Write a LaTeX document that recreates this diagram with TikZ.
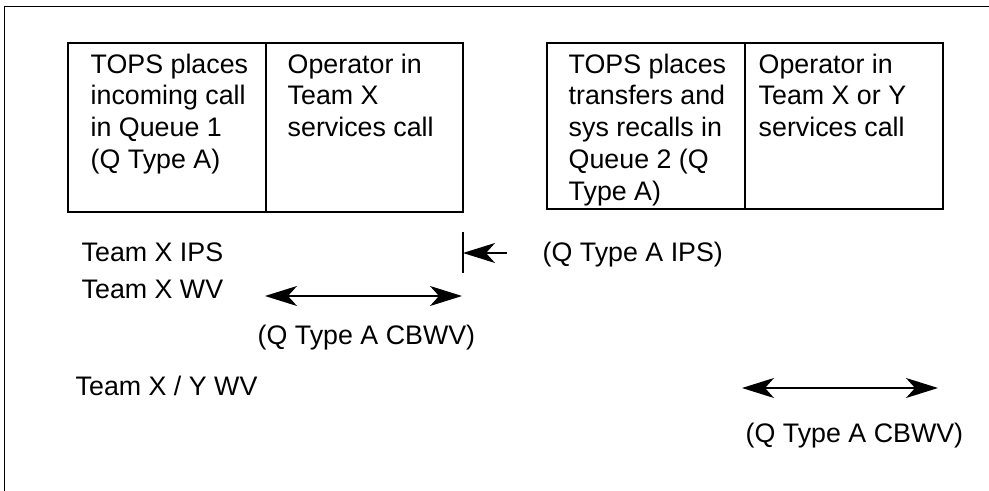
\documentclass[tikz,border=0pt]{standalone}
\usepackage{fontspec}
\setmainfont{Liberation Sans}
\usetikzlibrary{arrows.meta}
\begin{document}
\begin{tikzpicture}[x=0.5pt,y=-0.5pt,line width=0.7pt,>={Stealth[length=16pt,width=10pt,inset=4.5pt]},font=\fontsize{13.4}{15.9}\selectfont,
	cell/.style={draw,line width=1pt,anchor=north west,inner sep=0pt,outer sep=0pt},
	celltext/.style={anchor=north west,align=left,inner sep=0pt},
	lbl/.style={anchor=base west,inner sep=0pt}]
	\useasboundingbox (0,0) rectangle (989,491);
	\draw[line width=0.5pt] (4,491)--(4,7)--(989,7);
	% queue 1 and team X
	\node[cell,minimum width=99pt,minimum height=84.5pt] (q1) at (68,43) {};
	\node[cell,minimum width=98.5pt,minimum height=84.5pt] (op1) at (q1.north east) {};
	\node[celltext] (q1t) at ([shift={(22,10)}]q1.north west) {TOPS places\\incoming call\\in Queue 1\\(Q Type A)};
	\node[celltext] (op1t) at ([shift={(21,10)}]op1.north west) {Operator in\\Team X\\services call};
	% queue 2 and team X or Y
	\node[cell,minimum width=99pt,minimum height=83pt] (q2) at (547,43) {};
	\node[cell,minimum width=99pt,minimum height=83pt] (op2) at (q2.north east) {};
	\node[celltext] (q2t) at ([shift={(21,10)}]q2.north west) {TOPS places\\transfers and\\sys recalls in\\Queue 2 (Q\\Type A)};
	\node[celltext] (op2t) at ([shift={(13,10)}]op2.north west) {Operator in\\Team X or Y\\services call};
	% labels
	\node[lbl] (ipsx) at (81,262) {Team X IPS};
	\node[lbl] (wvx) at (81,299) {Team X WV};
	\node[lbl] (wvxy) at (75,395) {Team X / Y WV};
	\node[lbl] (ipsa) at (542,262) {(Q Type A IPS)};
	\node[lbl] (cbwva) at (257,344) {(Q Type A CBWV)};
	\node[lbl] (cbwvb) at (745,442) {(Q Type A CBWV)};
	% arrows
	\coordinate (barT) at (463,232);
	\coordinate (barB) at (463,273);
	\coordinate (ipsTail) at (507,253);
	\coordinate (ipsTip) at (463,253);
	\coordinate (wvL) at (265,296);
	\coordinate (wvR) at (462,296);
	\coordinate (wvyL) at (742,388);
	\coordinate (wvyR) at (938,388);
	\draw[line width=0.8pt] (barT)--(barB);
	\draw[->] (ipsTail)--(ipsTip);
	\draw[<->] (wvL)--(wvR);
	\draw[<->] (wvyL)--(wvyR);
\end{tikzpicture}
\end{document}
